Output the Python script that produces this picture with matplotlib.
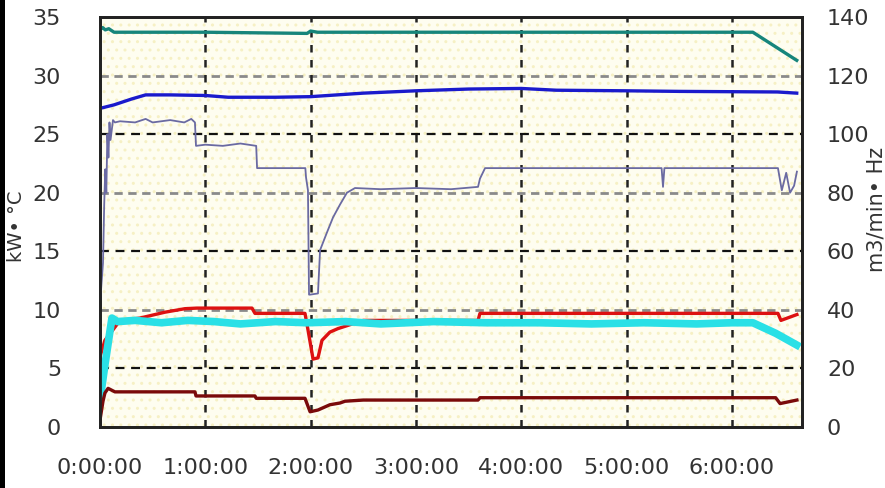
import matplotlib
matplotlib.use("Agg")
import matplotlib.pyplot as plt
from matplotlib.patches import Rectangle

# tiempos en minutos desde el inicio, valores en unidades del eje izquierdo (kW / °C)
t_teal = [0, 1.5, 3, 5, 8, 12, 60, 118, 120, 124, 200, 300, 372, 397]
v_teal = [33.9, 34.1, 33.9, 34.0, 33.7, 33.7, 33.7, 33.6, 33.8, 33.7, 33.7, 33.7, 33.7, 31.3]

t_blue = [0, 8, 18, 26, 40, 60, 73, 100, 120, 150, 180, 210, 240, 260, 300, 330, 386, 397]
v_blue = [27.2, 27.5, 28.0, 28.35, 28.35, 28.3, 28.15, 28.15, 28.2, 28.5, 28.7, 28.85, 28.9, 28.75, 28.7, 28.65, 28.6, 28.5]

t_slate = [0, 1.7, 2.4, 3.0, 3.6, 4.2, 4.8, 5.4, 6.0, 7.4, 8.5, 11.4, 20, 26, 30, 40, 48, 52, 54.1, 54.7, 60, 70, 80, 89.0, 89.5,
           117.0, 117.4, 118.5, 119.1, 119.7, 124.2, 125.4, 129.3, 132.8, 136.8, 140.7, 145.3, 160, 180, 200, 215.4, 216.5,
           219.4, 260, 300, 320.0, 320.8, 321.6, 386.3, 388.5, 391.0, 393.2, 395.5, 397.1]
v_slate = [10.5, 14, 19, 22, 20, 25, 23, 26, 24.5, 26.2, 26.0, 26.1, 26.0, 26.3, 26.0, 26.2, 26.0, 26.3, 26.0, 24.0, 24.1, 24.0, 24.2, 24.0, 22.1,
           22.1, 21.3, 20.2, 11.3, 11.3, 11.4, 15.1, 16.6, 17.9, 19.0, 20.0, 20.4, 20.3, 20.4, 20.3, 20.5, 21.2,
           22.1, 22.1, 22.1, 22.1, 20.5, 22.1, 22.1, 20.2, 21.7, 20.0, 20.6, 21.8]

t_red = [0, 2.8, 7.4, 11.4, 22.8, 37, 48.4, 55.3, 86.6, 88.3, 116.8, 118.5, 121.4, 124.2, 126.5, 131, 135.6, 150, 215.4, 216.5, 386.3, 388, 397.1]
v_red = [6.0, 7.4, 8.3, 9.1, 9.3, 9.8, 10.1, 10.15, 10.15, 9.7, 9.7, 8.3, 5.8, 5.9, 7.4, 8.1, 8.4, 9.1, 9.1, 9.7, 9.7, 9.1, 9.6]

t_cyan = [0, 3, 6.8, 10, 20, 35, 50, 65, 80, 100, 118, 140, 160, 190, 220, 250, 280, 310, 340, 360, 372, 385, 397]
v_cyan = [2.3, 5.5, 9.3, 9.0, 9.1, 8.9, 9.1, 9.0, 8.8, 9.0, 8.9, 9.0, 8.8, 9.0, 8.9, 8.9, 8.8, 8.9, 8.8, 8.9, 8.9, 8.0, 7.0]

t_dred = [0, 1.7, 2.8, 4.6, 8.5, 30, 54.1, 54.7, 88.3, 89.0, 116.8, 119.7, 124.2, 131, 136.8, 139.6, 150, 215.4, 216.5, 385, 387.5, 397.1]
v_dred = [0.6, 2.2, 2.9, 3.3, 3.0, 3.0, 3.0, 2.65, 2.65, 2.45, 2.45, 1.3, 1.45, 1.9, 2.05, 2.2, 2.3, 2.3, 2.5, 2.5, 2.0, 2.3]

x_ticks = [0, 60, 120, 180, 240, 300, 360]
x_labels = ["0:00:00", "1:00:00", "2:00:00", "3:00:00", "4:00:00", "5:00:00", "6:00:00"]

fig = plt.figure(figsize=(8.85, 4.88), dpi=100)
fig.patch.set_facecolor("white")
ax = fig.add_axes([100 / 885, 61 / 488, 702 / 885, 410 / 488])
ax.set_facecolor("#fefdf0")
# fondo punteado
ax.add_patch(Rectangle((0, 0), 1, 1, transform=ax.transAxes, facecolor="none",
                       edgecolor="#f6f0c4", hatch="..", linewidth=0, zorder=0))

ax.plot(t_slate, v_slate, color="#6a6aa2", lw=1.3, zorder=3)
ax.plot(t_teal, v_teal, color="#16857b", lw=2.4, zorder=3)
ax.plot(t_blue, v_blue, color="#1a1acc", lw=2.4, zorder=3)
ax.plot(t_red, v_red, color="#dd1111", lw=2.4, zorder=3)
ax.plot(t_cyan, v_cyan, color="#2ae0e6", lw=5.5, zorder=4)
ax.plot(t_dred, v_dred, color="#7a0a0a", lw=2.4, zorder=5)

ax.set_xlim(0, 400)
ax.set_ylim(0, 35)
ax.set_xticks(x_ticks)
ax.set_xticklabels(x_labels)
ax.set_yticks(range(0, 36, 5))

# rejilla
for y in range(5, 35, 5):
    if y % 10 == 0:
        ax.axhline(y, color="#8a8a8a", lw=2.0, dashes=(3, 2), zorder=1)
    else:
        ax.axhline(y, color="#111111", lw=1.6, dashes=(4, 3), zorder=1)
for x in x_ticks[1:]:
    ax.axvline(x, color="#222222", lw=1.8, dashes=(3, 3), zorder=1)

ax2 = ax.twinx()
ax2.set_ylim(0, 140)
ax2.set_yticks(range(0, 141, 20))

for a in (ax, ax2):
    for s in a.spines.values():
        s.set_color("#222222")
        s.set_linewidth(2)
    a.tick_params(direction="in", length=0, labelsize=16, colors="#333333")
ax.tick_params(axis="y", pad=28)
ax2.tick_params(axis="y", pad=18)
ax.tick_params(axis="x", pad=22)

ax.set_ylabel("kW• °C", fontsize=14, color="#333333")
ax2.set_ylabel("m3/min• Hz", fontsize=15, color="#333333", rotation=90)
ax.yaxis.set_label_coords(-74 / 702, 0.49)
ax2.yaxis.set_label_coords(1 + 64 / 702, 0.53)

fig.patches.append(Rectangle((0, 0), 5 / 885, 1, transform=fig.transFigure,
                             facecolor="black", edgecolor="none"))

fig.savefig("out.png", dpi=100, facecolor="white")
